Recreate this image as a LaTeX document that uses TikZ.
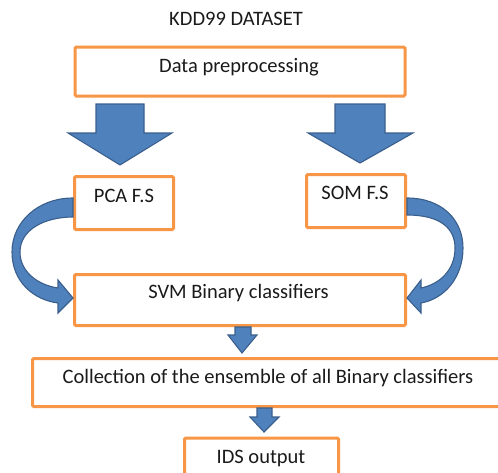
\documentclass[tikz,border=0pt]{standalone}
\usepackage{fontspec}
\setmainfont{Carlito}
\definecolor{boxorange}{HTML}{F79646}
\definecolor{arrowblue}{HTML}{4F81BD}
\definecolor{arrowedge}{HTML}{3A5F8C}
\definecolor{inkdark}{HTML}{1A1A1A}
\tikzset{
  box/.style={draw=boxorange, line width=3pt, rounded corners=1.2pt, fill=white, inner sep=0pt},
  lbl/.style={anchor=base, inner sep=0pt, text=inkdark, font=\fontsize{20.5}{24}\selectfont},
  blockarrow/.style={fill=arrowblue, draw=arrowedge, line width=1.1pt, line join=miter},
}
\begin{document}
\begin{tikzpicture}[x=1pt,y=-1pt]
\useasboundingbox (0,0) rectangle (498,472);
\clip (0,0) rectangle (498,472);

% title
\node[lbl] (title) at (236,25.5) {KDD99 DATASET};

% process boxes
\node[box, minimum width=330pt, minimum height=49pt] (dp) at (240,71.5) {};
\node[box, minimum width=99pt, minimum height=53pt] (pca) at (124,203) {};
\node[box, minimum width=99pt, minimum height=53pt] (som) at (356,201) {};
\node[box, minimum width=331pt, minimum height=51pt] (svm) at (240,300) {};
\node[box, minimum width=476pt, minimum height=48pt] (coll) at (270.5,382.5) {};
\node[box, minimum width=154pt, minimum height=50pt] (ids) at (261.5,463) {};

% box captions
\node[lbl] (dpt) at (239,72.5) {Data preprocessing};
\node[lbl] (pcat) at (124,202) {PCA F.S};
\node[lbl] (somt) at (355,199) {SOM F.S};
\node[lbl] (svmt) at (238.5,298) {SVM Binary classifiers};
\node[lbl] (collt) at (268,383) {Collection of the ensemble of all Binary classifiers};
\node[lbl] (idst) at (261,463) {IDS output};

% wide block arrows below the preprocessing box
\draw[blockarrow] (96,104) -- (144,104) -- (144,133) -- (172,133) -- (120,165)
  -- (68,133) -- (96,133) -- cycle;
\draw[blockarrow] (335,104) -- (385,104) -- (385,133) -- (413,133) -- (360,163)
  -- (308,133) -- (335,133) -- cycle;

% curved arrow from PCA F.S into the SVM box
\draw[blockarrow] (pca.west |- 0,198)
  .. controls (38,198) and (12,222) .. (12,252)
  .. controls (12,282) and (34,300) .. (58,303)
  -- (58,313) -- (svm.west |- 0,298) -- (58,280) -- (58,288)
  .. controls (38,285) and (20,272) .. (20,252)
  .. controls (20,230) and (44,217) .. (pca.west |- 0,217) -- cycle;

% curved arrow from SOM F.S into the SVM box
\draw[blockarrow] (som.east |- 0,198)
  .. controls (442,198) and (463,220) .. (463,248)
  .. controls (463,278) and (444,299) .. (421,303)
  -- (421,313) -- (svm.east |- 0,298) -- (421,280) -- (421,288)
  .. controls (440,284) and (455,270) .. (455,248)
  .. controls (455,228) and (440,215) .. (som.east |- 0,215) -- cycle;

% small block arrows between the lower boxes
\draw[blockarrow] (235,327) -- (251,327) -- (251,335) -- (257,335) -- (242,353)
  -- (228,335) -- (235,335) -- cycle;
\draw[blockarrow] (257,408) -- (272,408) -- (272,417) -- (279,417) -- (264,432)
  -- (250,417) -- (257,417) -- cycle;
\end{tikzpicture}
\end{document}
